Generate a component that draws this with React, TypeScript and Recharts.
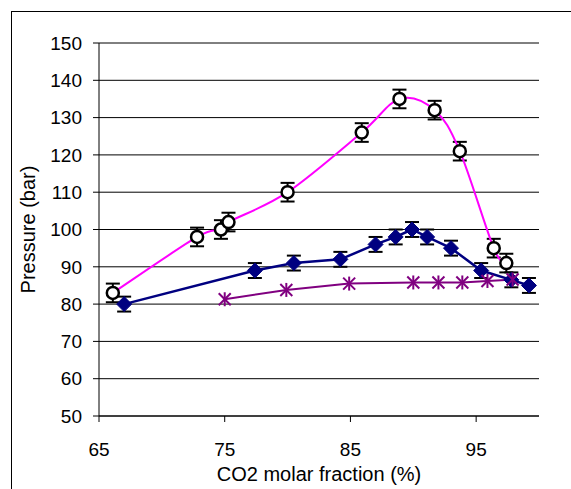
import React from 'react';
import { ComposedChart, Line, XAxis, YAxis, CartesianGrid, ErrorBar, Label } from 'recharts';

// Open circles (magenta smoothed line)
const circleX = [66.1, 72.8, 74.7, 75.3, 80.0, 85.9, 88.9, 91.7, 93.7, 96.4, 97.4];
const circleY = [83, 98, 100, 102, 110, 126, 135, 132, 121, 95, 91];
const circleErr = [2.5, 2.5, 2.5, 2.5, 2.5, 2.5, 2.5, 2.5, 2.5, 2.5, 2.5];

// Navy diamonds
const diamondX = [67.0, 77.4, 80.5, 84.2, 87.0, 88.6, 89.9, 91.1, 93.0, 95.4, 97.8, 99.2];
const diamondY = [80, 89, 91, 92, 96, 98, 100, 98, 95, 89, 86.5, 85];
const diamondErr = [2, 2, 2, 2, 2, 2, 2, 2, 2, 2, 2, 2];

// Purple asterisks
const starX = [75.0, 79.9, 84.9, 90.0, 92.0, 93.9, 95.9, 97.9];
const starY = [81.3, 83.8, 85.5, 85.8, 85.8, 85.8, 86.2, 86.6];

const xTicks = [65, 75, 85, 95];
const yTicks = [50, 60, 70, 80, 90, 100, 110, 120, 130, 140, 150];

const circleData = circleX.map((x, i) => ({ x, y: circleY[i], e: circleErr[i] }));
const diamondData = diamondX.map((x, i) => ({ x, y: diamondY[i], e: diamondErr[i] }));
const starData = starX.map((x, i) => ({ x, y: starY[i] }));

const FONT = '"Liberation Sans", Arial, sans-serif';

// Catmull-Rom style smoothing (Excel-like), clamped to avoid loops
function smoothCurve(context: any) {
  let pts: [number, number][] = [];
  return {
    areaStart() {},
    areaEnd() {},
    lineStart() {
      pts = [];
    },
    point(x: number, y: number) {
      pts.push([+x, +y]);
    },
    lineEnd() {
      if (!pts.length) return;
      context.moveTo(pts[0][0], pts[0][1]);
      for (let i = 0; i < pts.length - 1; i++) {
        const p0 = pts[i - 1] || pts[i];
        const p1 = pts[i];
        const p2 = pts[i + 1];
        const p3 = pts[i + 2] || p2;
        let c1x = p1[0] + (p2[0] - p0[0]) / 6;
        const c1y = p1[1] + (p2[1] - p0[1]) / 6;
        let c2x = p2[0] - (p3[0] - p1[0]) / 6;
        const c2y = p2[1] - (p3[1] - p1[1]) / 6;
        const lo = Math.min(p1[0], p2[0]);
        const hi = Math.max(p1[0], p2[0]);
        c1x = Math.max(lo, Math.min(hi, c1x));
        c2x = Math.max(lo, Math.min(hi, c2x));
        context.bezierCurveTo(c1x, c1y, c2x, c2y, p2[0], p2[1]);
      }
    },
  };
}

const CircleDot = (props: any) => {
  const { cx, cy, index } = props;
  if (cx == null || cy == null) return <g key={`c${index}`} />;
  return <circle key={`c${index}`} cx={cx} cy={cy} r={6} fill="#fff" stroke="#000" strokeWidth={2.5} />;
};

const DiamondDot = (props: any) => {
  const { cx, cy, index } = props;
  if (cx == null || cy == null) return <g key={`d${index}`} />;
  const s = 7.5;
  return (
    <polygon
      key={`d${index}`}
      points={`${cx},${cy - s} ${cx + s},${cy} ${cx},${cy + s} ${cx - s},${cy}`}
      fill="#000080"
      stroke="#000080"
      strokeWidth={1}
    />
  );
};

const StarDot = (props: any) => {
  const { cx, cy, index } = props;
  if (cx == null || cy == null) return <g key={`s${index}`} />;
  const a = 6;
  const v = 7;
  return (
    <g key={`s${index}`} stroke="#800080" strokeWidth={2}>
      <line x1={cx} y1={cy - v} x2={cx} y2={cy + v} />
      <line x1={cx - a} y1={cy - a} x2={cx + a} y2={cy + a} />
      <line x1={cx - a} y1={cy + a} x2={cx + a} y2={cy - a} />
    </g>
  );
};

const tickStyle = { fill: '#000', fontSize: 19, fontFamily: FONT };

export default function App() {
  return (
    <div style={{ position: 'absolute', left: 0, top: 0, width: 571, height: 489, overflow: 'hidden', background: '#fff' }}>
      <div
        style={{
          position: 'absolute',
          left: 11,
          top: 11,
          width: 700,
          height: 700,
          border: '1px solid #000',
          boxSizing: 'border-box',
        }}
      />
      <div style={{ position: 'absolute', left: 0, top: 0 }}>
        <ComposedChart width={571} height={489} margin={{ top: 43, right: 32, left: 0, bottom: 0 }}>
          <CartesianGrid horizontal vertical={false} stroke="#000" strokeWidth={1} />
          <XAxis
            type="number"
            dataKey="x"
            domain={[65, 100]}
            ticks={xTicks}
            allowDataOverflow
            height={73}
            stroke="#000"
            tickSize={6}
            tickMargin={21}
            tick={tickStyle}
            tickLine={{ stroke: '#000' }}
            axisLine={{ stroke: '#000' }}
          >
            <Label
              content={(p: any) => {
                const vb = p.viewBox || {};
                return (
                  <text
                    x={vb.x + vb.width / 2}
                    y={481}
                    textAnchor="middle"
                    fontSize={20}
                    fontFamily={FONT}
                    fill="#000"
                  >
                    CO2 molar fraction (%)
                  </text>
                );
              }}
            />
          </XAxis>
          <YAxis
            type="number"
            domain={[50, 150]}
            ticks={yTicks}
            allowDataOverflow
            width={99}
            stroke="#000"
            tickSize={6}
            tickMargin={11}
            tick={tickStyle}
            tickLine={{ stroke: '#000' }}
            axisLine={{ stroke: '#000' }}
          >
            <Label
              content={(p: any) => {
                const vb = p.viewBox || {};
                const cy = vb.y + vb.height / 2;
                return (
                  <text
                    x={35}
                    y={cy}
                    textAnchor="middle"
                    fontSize={20}
                    fontFamily={FONT}
                    fill="#000"
                    transform={`rotate(-90 35 ${cy})`}
                  >
                    Pressure (bar)
                  </text>
                );
              }}
            />
          </YAxis>
          <Line
            data={circleData}
            dataKey="y"
            type={smoothCurve as any}
            stroke="#ff00ff"
            strokeWidth={2}
            dot={CircleDot}
            activeDot={false}
            isAnimationActive={false}
          >
            <ErrorBar dataKey="e" direction="y" width={7} stroke="#000" strokeWidth={2} isAnimationActive={false} />
          </Line>
          <Line
            data={diamondData}
            dataKey="y"
            type="linear"
            stroke="#000080"
            strokeWidth={2.5}
            dot={DiamondDot}
            activeDot={false}
            isAnimationActive={false}
          >
            <ErrorBar dataKey="e" direction="y" width={7} stroke="#000" strokeWidth={2} isAnimationActive={false} />
          </Line>
          <Line
            data={starData}
            dataKey="y"
            type="linear"
            stroke="#800080"
            strokeWidth={2}
            dot={StarDot}
            activeDot={false}
            isAnimationActive={false}
          />
        </ComposedChart>
      </div>
    </div>
  );
}
